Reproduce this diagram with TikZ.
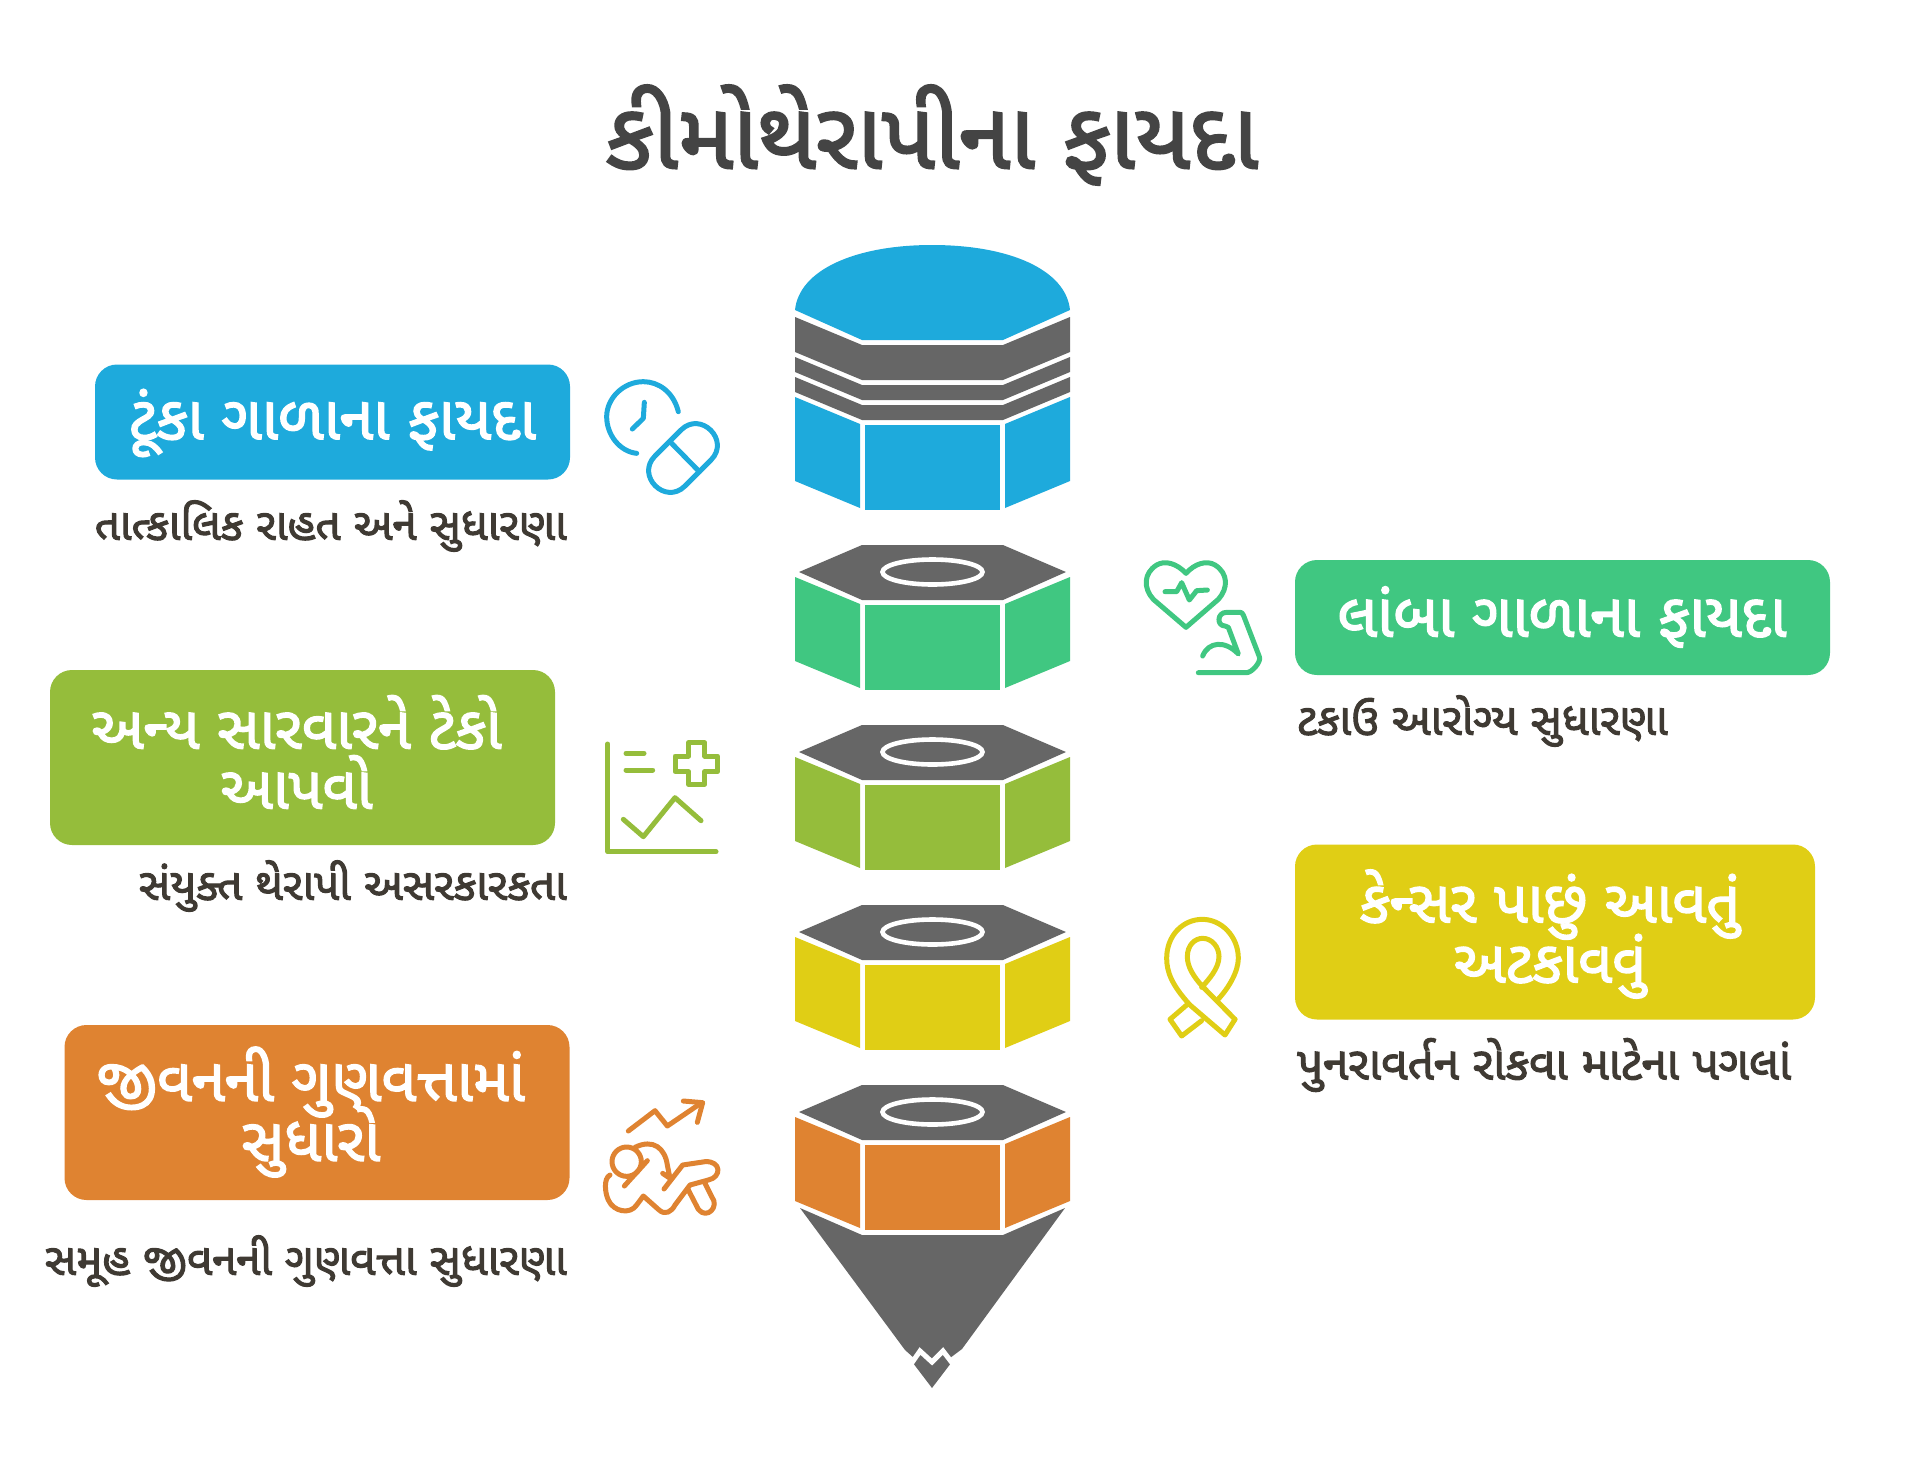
\documentclass[tikz,border=0pt]{standalone}
\usepackage{fontspec}
\newfontfamily\guj[Script=Gujarati,FakeBold=2.4]{Noto Sans Gujarati UI}
\definecolor{cblue}{HTML}{1EAADC}
\definecolor{cgreen}{HTML}{40C781}
\definecolor{clime}{HTML}{95BD3B}
\definecolor{cyel}{HTML}{E0CE15}
\definecolor{corg}{HTML}{DF8331}
\definecolor{cgrey}{HTML}{666666}
\definecolor{ctitle}{HTML}{444444}
\definecolor{csub}{HTML}{3F3A33}
\newcommand{\cardfontset}[1]{\guj\fontsize{#1}{60}\selectfont\lineskiplimit -100pt\relax}
\tikzset{
  card/.style={rounded corners=22pt,inner sep=0pt},
  cardtext/.style={inner sep=0pt,text=white,align=center,font=\cardfontset{#1}},
  subl/.style={text=csub,inner sep=0pt,font=\guj\fontsize{#1}{46}\selectfont},
  icon/.style={line width=5pt,line cap=round,line join=round,fill=none},
}
\newcommand{\nut}[2]{%
  \begin{scope}[shift={(0,#1)}]
    \fill[cgrey] (862,0)--(1003,0)--(1066,27)--(1003,55)--(862,55)--(799,27)--cycle;
    \draw[white,line width=4.6pt] (932.5,27) ellipse [x radius=50,y radius=12.5];
    \fill[#2] (795,32)--(860,59)--(860,143)--(795,116)--cycle;
    \fill[#2] (865,60) rectangle (1000,145);
    \fill[#2] (1070,32)--(1005,59)--(1005,143)--(1070,116)--cycle;
  \end{scope}}
\begin{document}
\begin{tikzpicture}[x=1pt,y=-1pt]
\useasboundingbox (0,0) rectangle (1925,1475);
\node[text=ctitle,inner sep=0pt,font=\guj\fontsize{93}{96}\selectfont] (title) at (932,135) {કીમોથેરાપીના ફાયદા};

% top cap
\fill[cblue] (795,310)--(862,340)--(1003,340)--(1070,310) .. controls (1066,270) and (1010,245) .. (932,245) .. controls (855,245) and (799,270) .. (795,310)--cycle;
\fill[cgrey] (795,317)--(862,345)--(1003,345)--(1070,317)--(1070,352)--(1003,380)--(862,380)--(795,352)--cycle;
\fill[cgrey] (795,357)--(862,385)--(1003,385)--(1070,357)--(1070,372)--(1003,400)--(862,400)--(795,372)--cycle;
\fill[cgrey] (795,377)--(862,405)--(1003,405)--(1070,377)--(1070,392)--(1003,420)--(862,420)--(795,392)--cycle;
\fill[cblue] (795,397)--(860,424)--(860,508)--(795,481)--cycle;
\fill[cblue] (865,425) rectangle (1000,510);
\fill[cblue] (1070,397)--(1005,424)--(1005,508)--(1070,481)--cycle;

\nut{545}{cgreen}
\nut{725}{clime}
\nut{905}{cyel}
\nut{1085}{corg}

% tip
\fill[cgrey] (800,1208)--(862,1235)--(1003,1235)--(1065,1208)--(962,1349)--(950,1358)--(951,1363)--(932,1388)--(913,1363)--(914,1358)--(905,1350)--cycle;
\draw[white,line width=5pt,line join=miter] (911,1364)--(920,1351)--(932,1362)--(943,1351)--(953,1364);

% cards
\node[card,fill=cblue,minimum width=475pt,minimum height=115pt] (c1) at (332.5,422) {};
\node[card,fill=clime,minimum width=505pt,minimum height=175pt] (c2) at (302.5,757.5) {};
\node[card,fill=corg,minimum width=505pt,minimum height=175pt] (c3) at (317,1112.5) {};
\node[card,fill=cgreen,minimum width=535pt,minimum height=115pt] (c4) at (1562.5,617.5) {};
\node[card,fill=cyel,minimum width=520pt,minimum height=175pt] (c5) at (1555,932) {};
\node[cardtext=61] (t1) at (332.5,423) {ટૂંકા ગાળાના ફાયદા};
\node[cardtext=59.5] (t2) at (296.5,752) {અન્ય સારવારને ટેકો\\આપવો};
\node[cardtext=60.5] (t3) at (311,1112) {જીવનની ગુણવત્તામાં\\સુધારો};
\node[cardtext=61] (t4) at (1562,617) {લાંબા ગાળાના ફાયદા};
\node[cardtext=59] (t5) at (1550,934) {કેન્સર પાછું આવતું\\અટકાવવું};

% sub labels
\node[subl=44,anchor=east] (s1) at (567,526) {તાત્કાલિક રાહત અને સુધારણા};
\node[subl=44,anchor=east] (s2) at (567,886) {સંયુક્ત થેરાપી અસરકારકતા};
\node[subl=44,anchor=east] (s3) at (567,1261) {સમૂહ જીવનની ગુણવત્તા સુધારણા};
\node[subl=44,anchor=west] (s4) at (1297,721) {ટકાઉ આરોગ્ય સુધારણા};
\node[subl=46,anchor=west] (s5) at (1297,1065) {પુનરાવર્તન રોકવા માટેના પગલાં};

% blue icon
\begin{scope}[shift={(590,370)},scale=0.33333,icon,draw=cblue]
  \draw (265,125) .. controls (250,65) and (205,35) .. (160,35) .. controls (100,35) and (50,85) .. (50,140) .. controls (50,195) and (90,245) .. (140,250);
  \draw (163,97)--(160,145)--(127,177);
  \draw (363,270)--(285,348) .. controls (226,407) and (136,317) .. (195,258) -- (273,180) .. controls (332,121) and (422,211) .. (363,270) -- cycle;
  \draw (240,215)--(328,305);
\end{scope}
% lime icon
\begin{scope}[shift={(590,730)},scale=0.33333,icon,draw=clime]
  \draw (53,42)--(53,365)--(378,365);
  \draw (108,70)--(162,70);
  \draw (108,120)--(188,120);
  \draw (296,38)--(344,38)--(344,78)--(383,78)--(383,125)--(344,125)--(344,163)--(296,163)--(296,125)--(255,125)--(255,78)--(296,78)--cycle;
  \draw (100,268)--(160,320)--(255,203)--(333,272);
\end{scope}
% orange icon
\begin{scope}[shift={(590,1090)},scale=0.33333,icon,draw=corg]
  \draw (115,123)--(195,62)--(232,108)--(335,38);
  \draw (280,33)--(338,38)--(322,97);
  \draw (110,215) circle [radius=44];
  \draw (135,172) .. controls (190,145) and (225,175) .. (232,225) -- (240,265) -- (218,250);
  \draw (103,288)--(172,212);
  \draw (60,255) .. controls (40,265) and (45,310) .. (55,330) .. controls (70,365) and (120,375) .. (140,345) -- (160,318) -- (205,358) .. controls (225,378) and (245,365) .. (255,345) -- (300,285) -- (355,270) .. controls (395,262) and (395,212) .. (345,215) -- (278,225) -- (222,297);
  \draw (295,300) -- (325,358) .. controls (350,390) and (390,350) .. (365,320) -- (345,280);
\end{scope}
% green icon
\begin{scope}[shift={(1130,550)},scale=0.33333,icon,draw=cgreen]
  \draw (168,70) .. controls (140,40) and (105,30) .. (80,45) .. controls (40,70) and (40,115) .. (70,148) -- (168,232) -- (265,148) .. controls (295,115) and (295,70) .. (255,45) .. controls (230,30) and (195,40) .. (168,70)--cycle;
  \draw (105,125)--(140,125)--(155,98)--(178,150)--(200,122)--(232,120);
  \draw (205,368)--(350,368) .. controls (365,368) and (395,335) .. (388,320) -- (340,195) .. controls (335,185) and (330,187) .. (320,187) -- (290,187) .. controls (260,187) and (260,228) .. (285,228) -- (295,232) -- (325,312) .. controls (285,270) and (235,275) .. (218,318);
\end{scope}
% yellow icon
\begin{scope}[shift={(1140,900)},scale=0.33333,icon,draw=cyel]
  \draw (285,358) -- (255,405) -- (150,315) .. controls (95,255) and (80,215) .. (80,175) .. controls (80,105) and (130,58) .. (187,58) .. controls (245,58) and (295,110) .. (295,175) .. controls (295,215) and (265,265) .. (235,297);
  \draw (285,358) -- (190,262) .. controls (160,230) and (142,200) .. (142,170) .. controls (142,135) and (165,115) .. (188,115) .. controls (215,115) and (237,140) .. (237,170) .. controls (237,205) and (205,240) .. (185,262);
  \draw (140,315) -- (90,358) -- (125,408) -- (185,362);
\end{scope}
\end{tikzpicture}
\end{document}
